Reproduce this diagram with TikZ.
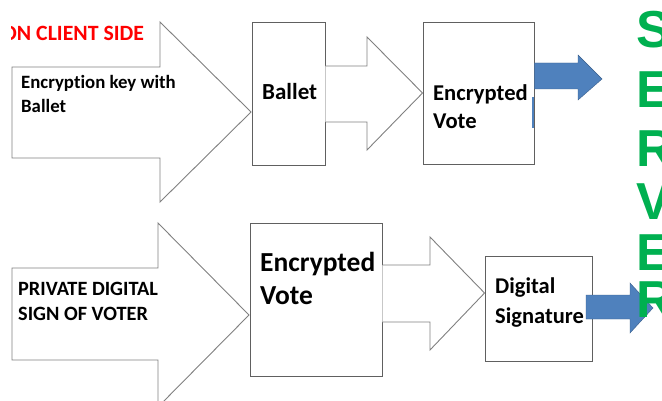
\documentclass[tikz,border=0pt]{standalone}
\usepackage{fontspec}
\setmainfont{Carlito}[Ligatures={NoCommon}]
\newfontfamily\serverfont{Liberation Sans}
\definecolor{arrowgray}{RGB}{128,128,128}
\definecolor{boxgray}{RGB}{96,96,96}
\definecolor{offblue}{RGB}{79,129,189}
\definecolor{offblueline}{RGB}{56,93,138}
\definecolor{srvgreen}{RGB}{0,176,80}
\definecolor{clientred}{RGB}{255,0,0}
\newcommand{\twolines}[2]{\vtop{\hbox{#1}\hbox{#2}}}
\tikzset{
  blockarrow/.style={draw=arrowgray, line width=0.9pt, fill=white, line join=miter},
  stagebox/.style={draw=boxgray, line width=0.9pt, fill=white, rectangle, inner sep=0pt},
  bluearrow/.style={fill=offblue, draw=offblueline, line width=0.4pt},
  lbl/.style={anchor=base west, inner sep=0pt, text=black},
  srv/.style={anchor=base west, inner sep=0pt, text=srvgreen, font=\serverfont\bfseries\fontsize{52}{60}\selectfont},
}
\begin{document}
\begin{tikzpicture}[x=1pt, y=-1pt]
\useasboundingbox (0,0) rectangle (662,401);
\clip (0,0) rectangle (662,401);
% ---- boxes (named) ----
\node[stagebox, minimum width=73pt, minimum height=143pt] (ballet) at (288.5,93.5) {};
\node[stagebox, minimum width=111pt, minimum height=142pt] (encA) at (478.5,93) {};
\node[stagebox, minimum width=132pt, minimum height=153pt] (encB) at (316,299.5) {};
\node[stagebox, minimum width=107pt, minimum height=105pt] (dsig) at (538.5,308.5) {};
% ---- big input arrows ----
\draw[blockarrow] (12,67) -- (160,67) -- (160,22) -- (251,112) -- (160,202) -- (160,158) -- (12,158) -- cycle;
\draw[blockarrow] (12,268) -- (158,268) -- (158,223) -- (249,315) -- (158,407) -- (158,360) -- (12,360) -- cycle;
% ---- small arrows between boxes ----
\draw[blockarrow] (ballet.east |- 0,66) -- (367,66) -- (367,37) -- (encA.west |- 0,93) -- (367,150) -- (367,122) -- (ballet.east |- 0,122);
\draw[blockarrow] (encB.east |- 0,265) -- (430,265) -- (430,237) -- (dsig.west |- 0,293) -- (430,350) -- (430,322) -- (encB.east |- 0,322);
% ---- texts in arrows ----
\node[lbl, font=\bfseries\fontsize{18.8}{24}\selectfont] (keytxt) at (21,89) {\twolines{Encryption key with}{Ballet}};
\node[lbl, font=\bfseries\fontsize{20.3}{25}\selectfont] (privtxt) at (18,295) {\twolines{PRIVATE DIGITAL}{SIGN OF VOTER}};
% ---- texts in boxes ----
\node[lbl, font=\bfseries\fontsize{23}{28}\selectfont] (ballettxt) at (262,100) {Ballet};
\node[lbl, font=\bfseries\fontsize{22.6}{28}\selectfont] (encAtxt) at (433,101) {\twolines{Encrypted}{Vote}};
\node[lbl, font=\bfseries\fontsize{27.5}{33}\selectfont] (encBtxt) at (260,272) {\twolines{Encrypted}{Vote}};
\node[lbl, font=\bfseries\fontsize{22.5}{29}\selectfont] (dsigtxt) at (495,294) {\twolines{Digital}{Signature}};
% ---- blue arrows to server ----
\draw[bluearrow] (encA.east |- 0,63) -- (578,63) -- (578,55) -- (602,79) -- (578,100) -- (578,89) -- (encA.east |- 0,89) -- cycle;
\draw[offblue, line width=1.5pt] (533,97) -- (533,128);
\draw[bluearrow] (586,295) -- (630,295) -- (630,283) -- (653,308) -- (630,333) -- (630,319) -- (586,319) -- cycle;
% ---- client side label ----
\begin{scope}
\clip (11,0) rectangle (200,60);
\node[lbl, text=clientred, font=\bfseries\fontsize{21.8}{24}\selectfont] (client) at (2,41) {ON CLIENT SIDE};
\end{scope}
% ---- SERVER ----
\node[srv] (s1) at (636,48) {S};
\node[srv] (s2) at (636,108) {E};
\node[srv] (s3) at (636,167) {R};
\node[srv] (s4) at (636,220) {V};
\node[srv] (s5) at (636,270) {E};
\node[srv] (s6) at (636,317) {R};
\end{tikzpicture}
\end{document}
